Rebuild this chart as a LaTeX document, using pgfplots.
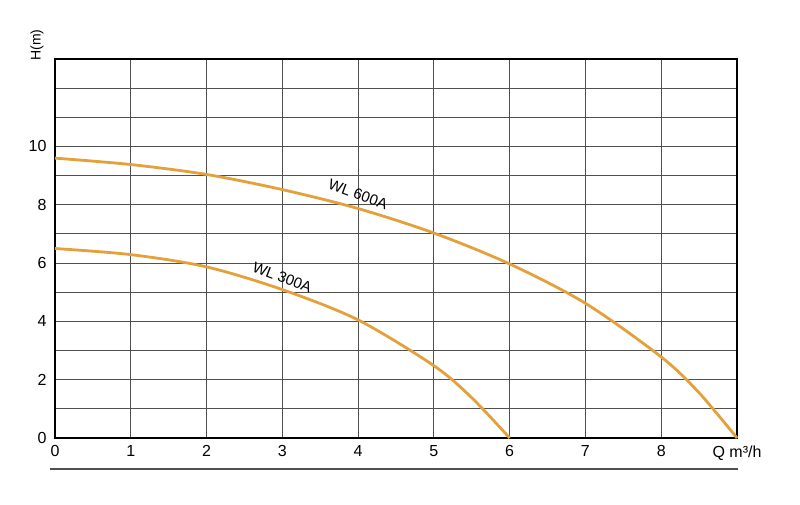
\documentclass[border=0pt]{standalone}
\usepackage{pgfplots}
\pgfplotsset{compat=1.18}
\usepackage{fontspec}
\setmainfont{Liberation Sans}
\definecolor{pumpcurve}{RGB}{228,160,58}
\definecolor{gridgray}{RGB}{80,80,80}

\begin{document}
\begin{tikzpicture}
\begin{axis}[
    at={(0,0)}, anchor=south west,
    scale only axis,
    width=682pt, height=379pt,
    xmin=0, xmax=9, ymin=0, ymax=13,
    xtick={0,...,9},
    xticklabels={0,1,2,3,4,5,6,7,8,{Q m³/h}},
    ytick={0,...,13},
    yticklabels={0,,2,,4,,6,,8,,10,,,},
    major tick length=0pt,
    grid=major,
    major grid style={draw=gridgray, line width=0.9pt},
    axis line style={draw=black, line width=1.8pt},
    ticklabel style={font=\fontsize{16}{19}\selectfont},
    xticklabel style={yshift=-4pt},
    yticklabel style={xshift=-5pt},
    /pgf/number format/assume math mode=true,
    clip=false,
]
\addplot[pumpcurve, line width=2.8pt, smooth] coordinates {
  (0,9.6) (1,9.38) (2,9.04) (3,8.52) (4,7.87) (5,7.03) (6,5.97) (7,4.62) (8,2.78) (8.5,1.55) (9,0)
};
\addplot[pumpcurve, line width=2.8pt, smooth] coordinates {
  (0,6.5) (1,6.29) (2,5.87) (3,5.09) (4,4.05) (5,2.48) (5.5,1.38) (6,0)
};
\node[rotate=-20, font=\fontsize{15}{17}\selectfont] at (axis cs:4.0,8.35) {WL 600A};
\node[rotate=-21, font=\fontsize{15}{17}\selectfont] at (axis cs:3.0,5.5) {WL 300A};
\end{axis}
\draw[draw=gridgray, line width=1.5pt] (-5pt,-31pt) -- (683pt,-31pt);
\node[rotate=90, font=\fontsize{14}{16}\selectfont] at (-18pt,393pt) {H(m)};
\pgfresetboundingbox
\useasboundingbox (-55pt,-66pt) rectangle (745pt,438pt);
\end{tikzpicture}
\end{document}
